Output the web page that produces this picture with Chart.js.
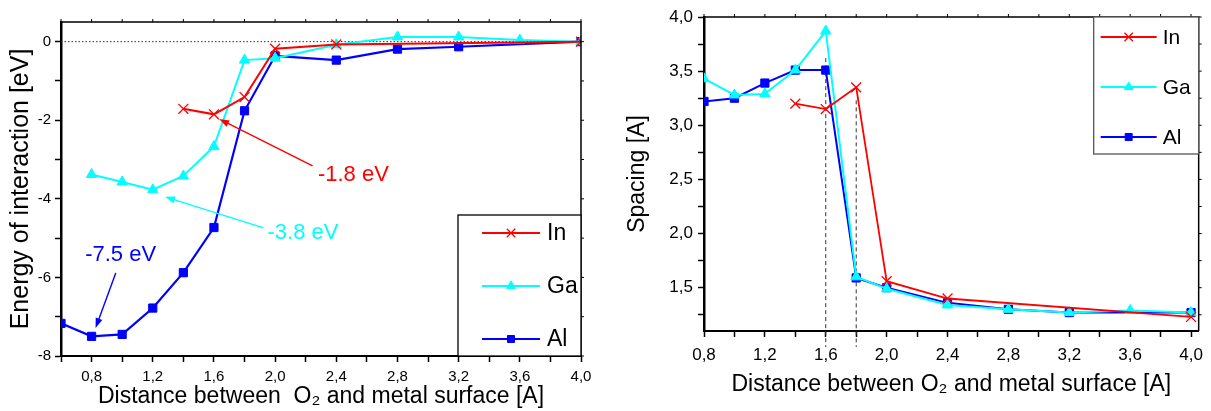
<!DOCTYPE html>
<html>
<head>
<meta charset="utf-8">
<script src="https://cdn.jsdelivr.net/npm/chart.js@4"></script>
<style>
  html, body { margin: 0; padding: 0; background: #fff; }
  #wrap { position: relative; width: 1211px; height: 411px; }
  canvas { position: absolute; top: 0; }
  #energy { left: 0; }
  #spacing { left: 600px; }
</style>
</head>
<body>
<div id="wrap">
  <canvas id="energy" width="600" height="411"></canvas>
  <canvas id="spacing" width="611" height="411"></canvas>
</div>
<script>
// energy of interaction [eV] vs distance [A]
const inEnergyX = [1.4, 1.6, 1.8, 2.0, 2.4, 4.0];
const inEnergy  = [-1.71, -1.85, -1.41, -0.18, -0.07, 0];
const gaEnergyX = [0.8, 1.0, 1.2, 1.4, 1.6, 1.8, 2.0, 2.4, 2.8, 3.2, 3.6, 4.0];
const gaEnergy  = [-3.38, -3.57, -3.77, -3.42, -2.67, -0.47, -0.42, -0.08, 0.12, 0.12, 0.04, 0];
const alEnergyX = [0.6, 0.8, 1.0, 1.2, 1.4, 1.6, 1.8, 2.0, 2.4, 2.8, 3.2, 4.0];
const alEnergy  = [-7.17, -7.5, -7.45, -6.78, -5.88, -4.73, -1.76, -0.36, -0.47, -0.19, -0.13, 0];

// spacing [A] vs distance [A]
const inSpacingX = [1.4, 1.6, 1.8, 2.0, 2.4, 4.0];
const inSpacing  = [3.2, 3.15, 3.35, 1.56, 1.40, 1.23];
const gaSpacingX = [0.8, 1.0, 1.2, 1.4, 1.6, 1.8, 2.0, 2.4, 2.8, 3.2, 3.6, 4.0];
const gaSpacing  = [3.43, 3.28, 3.29, 3.51, 3.87, 1.60, 1.49, 1.34, 1.30, 1.27, 1.29, 1.27];
const alSpacingX = [0.8, 1.0, 1.2, 1.4, 1.6, 1.8, 2.0, 2.4, 2.8, 3.2, 4.0];
const alSpacing  = [3.22, 3.25, 3.39, 3.51, 3.51, 1.59, 1.50, 1.36, 1.30, 1.27, 1.27];

const seriesNames = ['In', 'Ga', 'Al'];
const FONT = "'Liberation Sans', Arial, sans-serif";

const pts = (xs, ys) => xs.map((x, i) => ({ x, y: ys[i] }));
const comma = v => v.toFixed(1).replace('.', ',');
const onStep = (v, start, step) => {
  const k = (v - start) / step;
  return v >= start - 1e-6 && Math.abs(k - Math.round(k)) < 1e-6;
};

function makeSets(series, lw) {
  const styles = [
    { color: '#ff0000', pointStyle: 'crossRot', pointRadius: 7, borderWidth: lw[0], pointBorderWidth: 1.3 },
    { color: '#00ffff', pointStyle: 'triangle', pointRadius: 6, borderWidth: lw[1], pointBorderWidth: 1 },
    { color: '#0000ff', pointStyle: 'rect', pointRadius: 5.8, borderWidth: lw[2], pointBorderWidth: 1 }
  ];
  return series.map((d, i) => ({
    label: seriesNames[i],
    data: d,
    borderColor: styles[i].color,
    backgroundColor: styles[i].color,
    pointBackgroundColor: styles[i].color,
    pointBorderColor: styles[i].color,
    pointStyle: styles[i].pointStyle,
    pointRadius: styles[i].pointRadius,
    pointBorderWidth: styles[i].pointBorderWidth,
    borderWidth: styles[i].borderWidth,
    tension: 0
  }));
}

// top and right frame lines with small outward ticks
const frameTicks = {
  id: 'frameTicks',
  afterDraw(chart, args, o) {
    const { ctx, chartArea: a, scales: { x, y } } = chart;
    ctx.save();
    ctx.strokeStyle = '#000';
    ctx.lineWidth = o.width;
    ctx.beginPath();
    ctx.moveTo(a.left, a.top);
    ctx.lineTo(a.right, a.top);
    ctx.lineTo(a.right, a.bottom);
    ctx.stroke();
    ctx.lineWidth = 1;
    ctx.beginPath();
    x.ticks.forEach(t => {
      const px = x.getPixelForValue(t.value);
      ctx.moveTo(px, a.top);
      ctx.lineTo(px, a.top - o.len);
    });
    y.ticks.forEach(t => {
      const py = y.getPixelForValue(t.value);
      ctx.moveTo(a.right, py);
      ctx.lineTo(a.right + o.len, py);
    });
    ctx.stroke();
    ctx.restore();
  }
};

// reference lines: dotted horizontal, dashed verticals
const refLines = {
  id: 'refLines',
  beforeDatasetsDraw(chart, args, o) {
    const { ctx, chartArea: a, scales: { x, y } } = chart;
    ctx.save();
    ctx.strokeStyle = '#333';
    ctx.lineWidth = 1;
    (o.horizontal || []).forEach(v => {
      ctx.setLineDash([1.5, 2]);
      const py = y.getPixelForValue(v);
      ctx.beginPath();
      ctx.moveTo(a.left, py);
      ctx.lineTo(a.right, py);
      ctx.stroke();
    });
    (o.vertical || []).forEach(v => {
      ctx.setLineDash([4, 3]);
      const px = x.getPixelForValue(v.x);
      ctx.beginPath();
      ctx.moveTo(px, y.getPixelForValue(v.top));
      ctx.lineTo(px, a.bottom + o.overshoot);
      ctx.stroke();
    });
    ctx.restore();
  }
};

// arrows with value labels
const arrowNotes = {
  id: 'arrowNotes',
  afterDatasetsDraw(chart, args, o) {
    const { ctx, scales: { x, y } } = chart;
    ctx.save();
    (o.items || []).forEach(n => {
      const x1 = x.getPixelForValue(n.from[0]), y1 = y.getPixelForValue(n.from[1]);
      const x2 = x.getPixelForValue(n.to[0]), y2 = y.getPixelForValue(n.to[1]);
      const ang = Math.atan2(y2 - y1, x2 - x1);
      ctx.strokeStyle = n.color;
      ctx.fillStyle = n.color;
      ctx.lineWidth = 1.4;
      ctx.beginPath();
      ctx.moveTo(x1, y1);
      ctx.lineTo(x2 - 6 * Math.cos(ang), y2 - 6 * Math.sin(ang));
      ctx.stroke();
      ctx.beginPath();
      ctx.moveTo(x2, y2);
      ctx.lineTo(x2 - 10 * Math.cos(ang) + 3.5 * Math.sin(ang), y2 - 10 * Math.sin(ang) - 3.5 * Math.cos(ang));
      ctx.lineTo(x2 - 10 * Math.cos(ang) - 3.5 * Math.sin(ang), y2 - 10 * Math.sin(ang) + 3.5 * Math.cos(ang));
      ctx.closePath();
      ctx.fill();
      ctx.font = o.font;
      ctx.textAlign = n.align;
      ctx.textBaseline = 'middle';
      ctx.fillText(n.text, x.getPixelForValue(n.at[0]), y.getPixelForValue(n.at[1]));
    });
    ctx.restore();
  }
};

// boxed legend inside the plot area
const boxLegend = {
  id: 'boxLegend',
  afterDraw(chart, args, o) {
    const { ctx, chartArea: a } = chart;
    const bx = a.right - o.width;
    const by = o.atTop ? a.top : a.bottom - o.height;
    ctx.save();
    ctx.fillStyle = '#fff';
    ctx.fillRect(bx, by, o.width, o.height);
    ctx.strokeStyle = o.borderColor;
    ctx.lineWidth = 1.3;
    ctx.strokeRect(bx, by, o.width, o.height);
    chart.data.datasets.forEach((ds, i) => {
      const cy = by + o.firstRow + i * o.rowGap;
      ctx.strokeStyle = ds.borderColor;
      ctx.lineWidth = ds.borderWidth;
      ctx.beginPath();
      ctx.moveTo(bx + o.lineFrom, cy);
      ctx.lineTo(bx + o.lineTo, cy);
      ctx.stroke();
      ctx.fillStyle = ds.pointBackgroundColor;
      ctx.strokeStyle = ds.pointBorderColor;
      ctx.lineWidth = ds.pointBorderWidth;
      Chart.helpers.drawPoint(ctx, { pointStyle: ds.pointStyle, radius: ds.pointRadius * 0.85, borderWidth: ds.pointBorderWidth, rotation: 0 },
        bx + (o.lineFrom + o.lineTo) / 2, cy);
      ctx.fillStyle = '#000';
      ctx.font = o.font;
      ctx.textAlign = 'left';
      ctx.textBaseline = 'middle';
      ctx.fillText(ds.label, bx + o.textX, cy + 1);
    });
    ctx.restore();
  }
};

function axisX(min, max, tickSize, pad, title, titleSize, titlePad, height) {
  return {
    type: 'linear', position: 'bottom', min, max,
    afterFit: s => { s.height = height; },
    border: { display: true, color: '#000', width: 2 },
    grid: { drawOnChartArea: false, tickLength: 6, tickColor: '#000', tickWidth: 1.5 },
    ticks: {
      stepSize: 0.2, includeBounds: false, autoSkip: false, maxRotation: 0,
      color: '#000', padding: pad, font: { family: FONT, size: tickSize },
      callback: v => onStep(v, 0.8, 0.4) ? comma(v) : ''
    },
    title: { display: true, text: title, color: '#000', font: { family: FONT, size: titleSize }, padding: titlePad }
  };
}

Chart.defaults.animation = false;
Chart.defaults.events = [];

new Chart(document.getElementById('energy'), {
  type: 'line',
  data: {
    datasets: makeSets([pts(inEnergyX, inEnergy), pts(gaEnergyX, gaEnergy), pts(alEnergyX, alEnergy)], [2, 2, 2.2])
  },
  options: {
    responsive: false,
    devicePixelRatio: 1,
    layout: { padding: { top: 22, right: 19, left: 0, bottom: 0 } },
    scales: {
      x: axisX(0.6, 4.0, 15, 6, 'Distance between  O\u2082 and metal surface [A]', 23, { top: 0, bottom: 1 }, 55),
      y: {
        type: 'linear', min: -8, max: 0.5,
        afterFit: s => { s.width = 61; },
        border: { display: true, color: '#000', width: 2.5 },
        grid: { drawOnChartArea: false, tickLength: 6, tickColor: '#000', tickWidth: 1.5 },
        ticks: {
          stepSize: 1, includeBounds: false, color: '#000', padding: 4,
          font: { family: FONT, size: 15 },
          callback: v => (v % 2 === 0 ? String(v) : '')
        },
        title: { display: true, text: 'Energy of interaction [eV]', color: '#000', font: { family: FONT, size: 25 }, padding: { top: 6, bottom: 0 } }
      }
    },
    plugins: {
      legend: { display: false },
      tooltip: { enabled: false },
      frameTicks: { width: 1.5, len: 3 },
      refLines: { horizontal: [0] },
      arrowNotes: {
        font: '22px ' + FONT,
        items: [
          { text: '-1.8 eV', color: '#ff0000', from: [2.245, -3.16], to: [1.634, -1.97], at: [2.28, -3.40], align: 'left' },
          { text: '-3.8 eV', color: '#00ffff', from: [1.924, -4.74], to: [1.28, -3.95], at: [1.95, -4.88], align: 'left' },
          { text: '-7.5 eV', color: '#0000ff', from: [0.958, -5.89], to: [0.826, -7.29], at: [0.99, -5.43], align: 'center' }
        ]
      },
      boxLegend: { atTop: false, width: 123, height: 141, firstRow: 18, rowGap: 53, lineFrom: 24, lineTo: 82, textX: 89, font: '23px ' + FONT, borderColor: '#000' }
    }
  },
  plugins: [refLines, arrowNotes, frameTicks, boxLegend]
});

new Chart(document.getElementById('spacing'), {
  type: 'line',
  data: {
    datasets: makeSets([pts(inSpacingX, inSpacing), pts(gaSpacingX, gaSpacing), pts(alSpacingX, alSpacing)], [1.8, 2, 2])
  },
  options: {
    responsive: false,
    devicePixelRatio: 1,
    layout: { padding: { top: 17, right: 6, left: 0, bottom: 0 } },
    scales: {
      x: axisX(0.8, 4.05, 17, 8, 'Distance between O\u2082 and metal surface [A]', 23, { top: 0, bottom: 13 }, 80),
      y: {
        type: 'linear', min: 1.1, max: 4.0,
        afterFit: s => { s.width = 104; },
        border: { display: true, color: '#000', width: 2.5 },
        grid: { drawOnChartArea: false, tickLength: 6, tickColor: '#000', tickWidth: 1.5 },
        ticks: {
          stepSize: 0.25, includeBounds: false, color: '#000', padding: 5,
          font: { family: FONT, size: 17 },
          callback: v => onStep(v, 1.5, 0.5) ? comma(v) : ''
        },
        title: { display: true, text: 'Spacing [A]', color: '#000', font: { family: FONT, size: 23 }, padding: { top: 24, bottom: 0 } }
      }
    },
    plugins: {
      legend: { display: false },
      tooltip: { enabled: false },
      frameTicks: { width: 1.5, len: 3 },
      refLines: { overshoot: 16, vertical: [{ x: 1.6, top: 3.62 }, { x: 1.8, top: 3.23 }] },
      boxLegend: { atTop: true, width: 105, height: 137, firstRow: 20, rowGap: 50, lineFrom: 7, lineTo: 63, textX: 69, font: '21px ' + FONT, borderColor: '#555' }
    }
  },
  plugins: [refLines, frameTicks, boxLegend]
});
</script>
</body>
</html>
